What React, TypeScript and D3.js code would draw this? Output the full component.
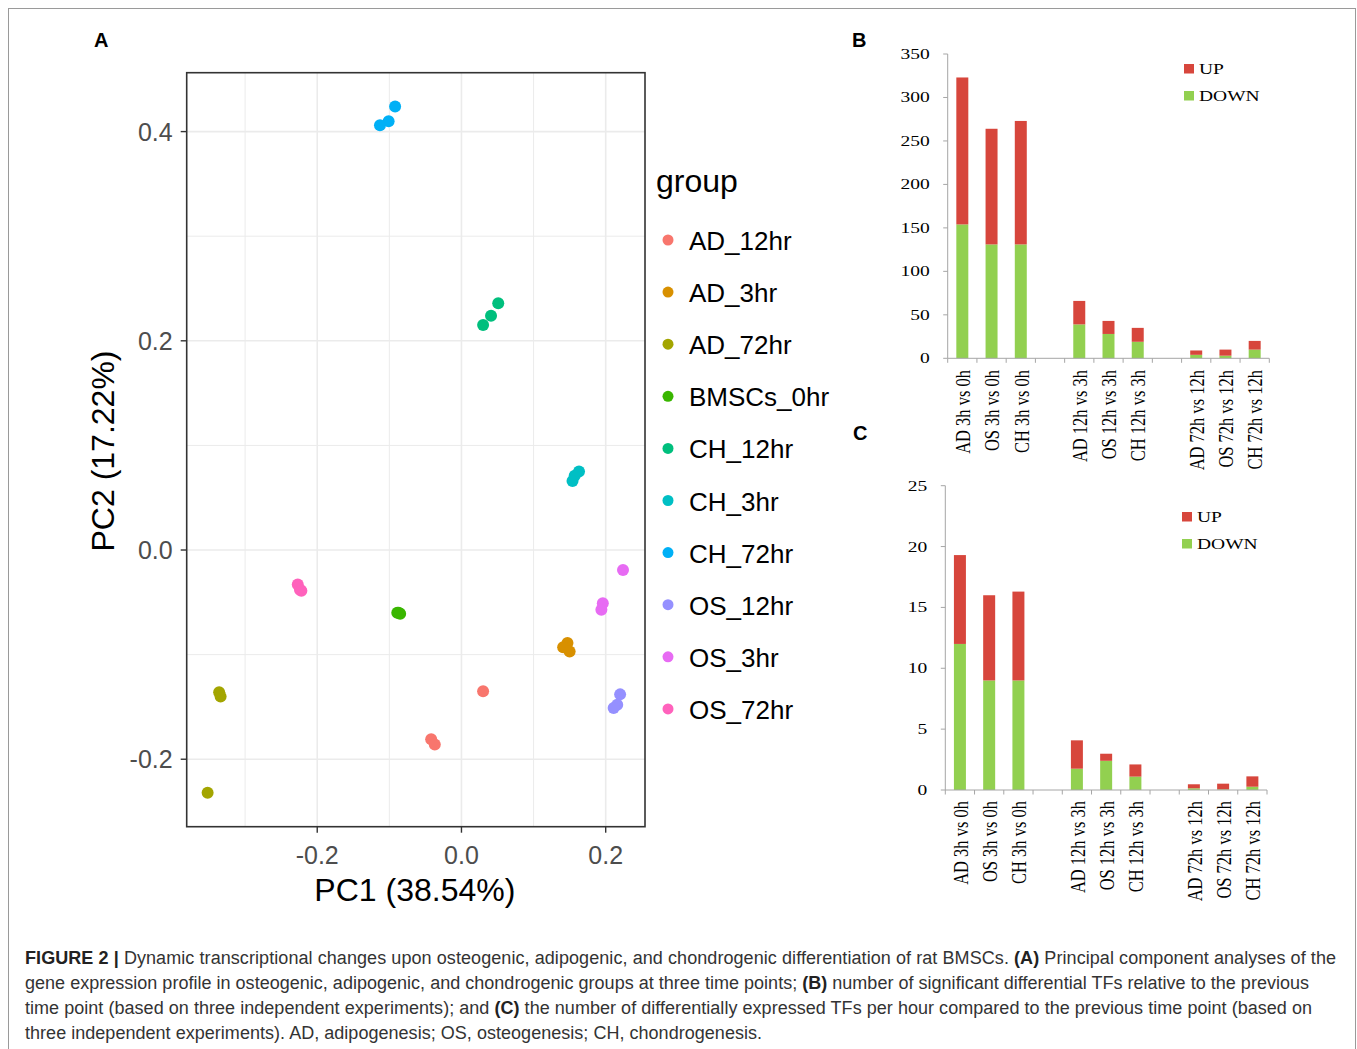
import React from 'react';
import * as d3 from 'd3';

// ---- panel A: PCA ----
const groups = ['AD_12hr', 'AD_3hr', 'AD_72hr', 'BMSCs_0hr', 'CH_12hr', 'CH_3hr', 'CH_72hr', 'OS_12hr', 'OS_3hr', 'OS_72hr'];
const groupColors = ['#F8766D', '#D89000', '#A3A500', '#39B600', '#00BF7D', '#00BFC4', '#00B0F6', '#9590FF', '#E76BF3', '#FF62BC'];

const pointGroup = [0, 0, 0, 1, 1, 1, 2, 2, 2, 3, 3, 3, 4, 4, 4, 5, 5, 5, 6, 6, 6, 7, 7, 7, 8, 8, 8, 9, 9, 9];
const pointPC1 = [
  0.030, -0.042, -0.037,
  0.147, 0.141, 0.150,
  -0.336, -0.334, -0.352,
  -0.089, -0.085, -0.087,
  0.051, 0.041, 0.030,
  0.163, 0.157, 0.154,
  -0.092, -0.101, -0.113,
  0.220, 0.216, 0.211,
  0.224, 0.196, 0.194,
  -0.227, -0.224, -0.222,
];
const pointPC2 = [
  -0.135, -0.181, -0.186,
  -0.089, -0.093, -0.097,
  -0.136, -0.140, -0.232,
  -0.060, -0.061, -0.060,
  0.236, 0.224, 0.215,
  0.075, 0.071, 0.066,
  0.424, 0.410, 0.406,
  -0.138, -0.148, -0.151,
  -0.019, -0.051, -0.057,
  -0.033, -0.038, -0.039,
];
const pcaMajorX = [-0.2, 0.0, 0.2];
const pcaMinorX = [-0.3, -0.1, 0.1];
const pcaMajorY = [-0.2, 0.0, 0.2, 0.4];
const pcaMinorY = [-0.1, 0.1, 0.3];

// ---- panels B and C: stacked bars ----
const barCategories = ['AD 3h vs 0h', 'OS 3h vs 0h', 'CH 3h vs 0h', '', 'AD 12h vs 3h', 'OS 12h vs 3h', 'CH 12h vs 3h', ' ', 'AD 72h vs 12h', 'OS 72h vs 12h', 'CH 72h vs 12h'];
const bDown = [154, 131, 131, 0, 39, 28, 19, 0, 4, 3, 10];
const bUp = [169, 133, 142, 0, 27, 15, 16, 0, 5, 7, 10];
const bTicks = [0, 50, 100, 150, 200, 250, 300, 350];
const cDown = [12, 9, 9, 0, 1.75, 2.4, 1.1, 0, 0.14, 0.05, 0.27];
const cUp = [7.3, 7, 7.3, 0, 2.33, 0.58, 1.0, 0, 0.33, 0.47, 0.85];
const cTicks = [0, 5, 10, 15, 20, 25];
const UP_COLOR = '#D7463C';
const DOWN_COLOR = '#92D050';

const SANS = 'Arial, "Liberation Sans", Helvetica, sans-serif';
const SERIF = '"Times New Roman", "Liberation Serif", serif';
const STRETCH = 1.3;

function PcaPanel() {
  const x = d3.scaleLinear().domain([-0.381, 0.2545]).range([186.7, 645]);
  const y = d3.scaleLinear().domain([-0.2645, 0.4563]).range([826.7, 72.7]);
  const [x0, x1] = x.range();
  const [y0, y1] = y.range();
  return (
    <g>
      {pcaMinorX.map(v => <line key={'mx' + v} x1={x(v)} x2={x(v)} y1={y1} y2={y0} stroke="#EBEBEB" strokeWidth={1} />)}
      {pcaMinorY.map(v => <line key={'my' + v} x1={x0} x2={x1} y1={y(v)} y2={y(v)} stroke="#EBEBEB" strokeWidth={1} />)}
      {pcaMajorX.map(v => <line key={'gx' + v} x1={x(v)} x2={x(v)} y1={y1} y2={y0} stroke="#EBEBEB" strokeWidth={1.6} />)}
      {pcaMajorY.map(v => <line key={'gy' + v} x1={x0} x2={x1} y1={y(v)} y2={y(v)} stroke="#EBEBEB" strokeWidth={1.6} />)}
      {pointPC1.map((v, i) => (
        <circle key={i} cx={x(v)} cy={y(pointPC2[i])} r={6} fill={groupColors[pointGroup[i]]} />
      ))}
      <rect x={x0} y={y1} width={x1 - x0} height={y0 - y1} fill="none" stroke="#333333" strokeWidth={1.6} />
      {pcaMajorX.map(v => (
        <g key={'tx' + v}>
          <line x1={x(v)} x2={x(v)} y1={y0} y2={y0 + 6} stroke="#333333" strokeWidth={1.4} />
          <text x={x(v)} y={y0 + 37} textAnchor="middle" fontSize={25} fill="#4D4D4D" fontFamily={SANS}>{v.toFixed(1)}</text>
        </g>
      ))}
      {pcaMajorY.map(v => (
        <g key={'ty' + v}>
          <line x1={x0 - 6} x2={x0} y1={y(v)} y2={y(v)} stroke="#333333" strokeWidth={1.4} />
          <text x={x0 - 14} y={y(v) + 9} textAnchor="end" fontSize={25} fill="#4D4D4D" fontFamily={SANS}>{v.toFixed(1)}</text>
        </g>
      ))}
      <text x={(x0 + x1) / 2 - 1} y={901} textAnchor="middle" fontSize={32} fontFamily={SANS} fill="#000">PC1 (38.54%)</text>
      <text transform={`translate(114,451) rotate(-90)`} textAnchor="middle" fontSize={32} fontFamily={SANS} fill="#000">PC2 (17.22%)</text>
      <text x={656} y={192} fontSize={32} fontFamily={SANS} fill="#000">group</text>
      {groups.map((g, i) => (
        <g key={g} transform={`translate(0,${240 + i * 52.1})`}>
          <circle cx={668} cy={0} r={5.5} fill={groupColors[i]} />
          <text x={689} y={10} fontSize={26} fontFamily={SANS} fill="#000">{g}</text>
        </g>
      ))}
    </g>
  );
}

interface BarProps {
  down: number[];
  up: number[];
  ticks: number[];
  xRange: [number, number];
  yRange: [number, number];
  maxY: number;
  legendX: number;
  legendY: number;
  labelTop: number;
}

function StackedBars({ down, up, ticks, xRange, yRange, maxY, legendX, legendY, labelTop }: BarProps) {
  const x = d3.scaleBand<number>().domain(barCategories.map((_, i) => i)).range(xRange).padding(0);
  const y = d3.scaleLinear().domain([0, maxY]).range(yRange);
  const bw = x.bandwidth() * 0.41;
  const base = y(0);
  const boundaries = d3.range(barCategories.length + 1).map(i => xRange[0] + i * x.bandwidth());
  return (
    <g>
      {barCategories.map((c, i) => {
        if (!c.trim()) return null;
        const cx = (x(i) as number) + x.bandwidth() / 2;
        return (
          <g key={i}>
            <rect x={cx - bw / 2} y={y(down[i])} width={bw} height={base - y(down[i])} fill={DOWN_COLOR} />
            <rect x={cx - bw / 2} y={y(down[i] + up[i])} width={bw} height={y(down[i]) - y(down[i] + up[i])} fill={UP_COLOR} />
            <text transform={`translate(${cx},${labelTop}) scale(${STRETCH},1) rotate(-90)`} dy="0.36em" textAnchor="end"
              fontSize={16.5} fontFamily={SERIF} fill="#000">{c}</text>
          </g>
        );
      })}
      <line x1={xRange[0]} x2={xRange[0]} y1={y(maxY)} y2={base} stroke="#A6A6A6" strokeWidth={1} />
      <line x1={xRange[0]} x2={xRange[1]} y1={base} y2={base} stroke="#A6A6A6" strokeWidth={1} />
      {boundaries.map((b, i) => <line key={'b' + i} x1={b} x2={b} y1={base} y2={base + 4.5} stroke="#A6A6A6" strokeWidth={1} />)}
      {ticks.map(t => (
        <g key={t}>
          <line x1={xRange[0] - 4.5} x2={xRange[0]} y1={y(t)} y2={y(t)} stroke="#A6A6A6" strokeWidth={1} />
          <text transform={`translate(${xRange[0] - 18},${y(t) + 5}) scale(${STRETCH},1)`} textAnchor="end" fontSize={15}
            fontFamily={SERIF} fill="#000">{t}</text>
        </g>
      ))}
      {[['UP', UP_COLOR], ['DOWN', DOWN_COLOR]].map(([name, col], i) => (
        <g key={name} transform={`translate(${legendX},${legendY + i * 27})`}>
          <rect x={0} y={0} width={10} height={9.5} fill={col} />
          <text transform={`translate(15,10) scale(${STRETCH},1)`} fontSize={15} fontFamily={SERIF} fill="#000">{name}</text>
        </g>
      ))}
    </g>
  );
}

const captionLines: { parts: [string, boolean][]; width: number }[] = [
  {
    parts: [['FIGURE 2 |', true], [' Dynamic transcriptional changes upon osteogenic, adipogenic, and chondrogenic differentiation of rat BMSCs. ', false], ['(A)', true], [' Principal component analyses of the', false]],
    width: 1311,
  },
  {
    parts: [['gene expression profile in osteogenic, adipogenic, and chondrogenic groups at three time points; ', false], ['(B)', true], [' number of significant differential TFs relative to the previous', false]],
    width: 1284,
  },
  {
    parts: [['time point (based on three independent experiments); and ', false], ['(C)', true], [' the number of differentially expressed TFs per hour compared to the previous time point (based on', false]],
    width: 1287,
  },
  {
    parts: [['three independent experiments). AD, adipogenesis; OS, osteogenesis; CH, chondrogenesis.', false]],
    width: 737,
  },
];

export default function App() {
  return (
    <div style={{ position: 'absolute', left: 0, top: 0 }}>
      <svg width={1357} height={1049} style={{ display: 'block', background: '#fff' }}>
        <rect x={8.5} y={8.5} width={1347} height={1060} fill="none" stroke="#9A9A9A" strokeWidth={1} />
        <text x={94} y={47} fontSize={20} fontWeight="bold" fontFamily={SANS}>A</text>
        <text x={852} y={47} fontSize={20} fontWeight="bold" fontFamily={SANS}>B</text>
        <text x={853} y={440} fontSize={20} fontWeight="bold" fontFamily={SANS}>C</text>
        <PcaPanel />
        <StackedBars down={bDown} up={bUp} ticks={bTicks} xRange={[947.7, 1269.3]} yRange={[358.3, 54]} maxY={350}
          legendX={1184} legendY={64} labelTop={370} />
        <StackedBars down={cDown} up={cUp} ticks={cTicks} xRange={[945.3, 1267]} yRange={[790, 485.7]} maxY={25}
          legendX={1182} legendY={512} labelTop={801} />
        {captionLines.map((ln, i) => (
          <text key={i} x={25} y={964 + i * 25} fontSize={18} fontFamily={SANS} fill="#333" textLength={ln.width} lengthAdjust="spacing">
            {ln.parts.map(([t, b], j) => (
              <tspan key={j} fontWeight={b ? 'bold' : 'normal'} fill={b ? '#222' : '#333'}>{t}</tspan>
            ))}
          </text>
        ))}
      </svg>
    </div>
  );
}
